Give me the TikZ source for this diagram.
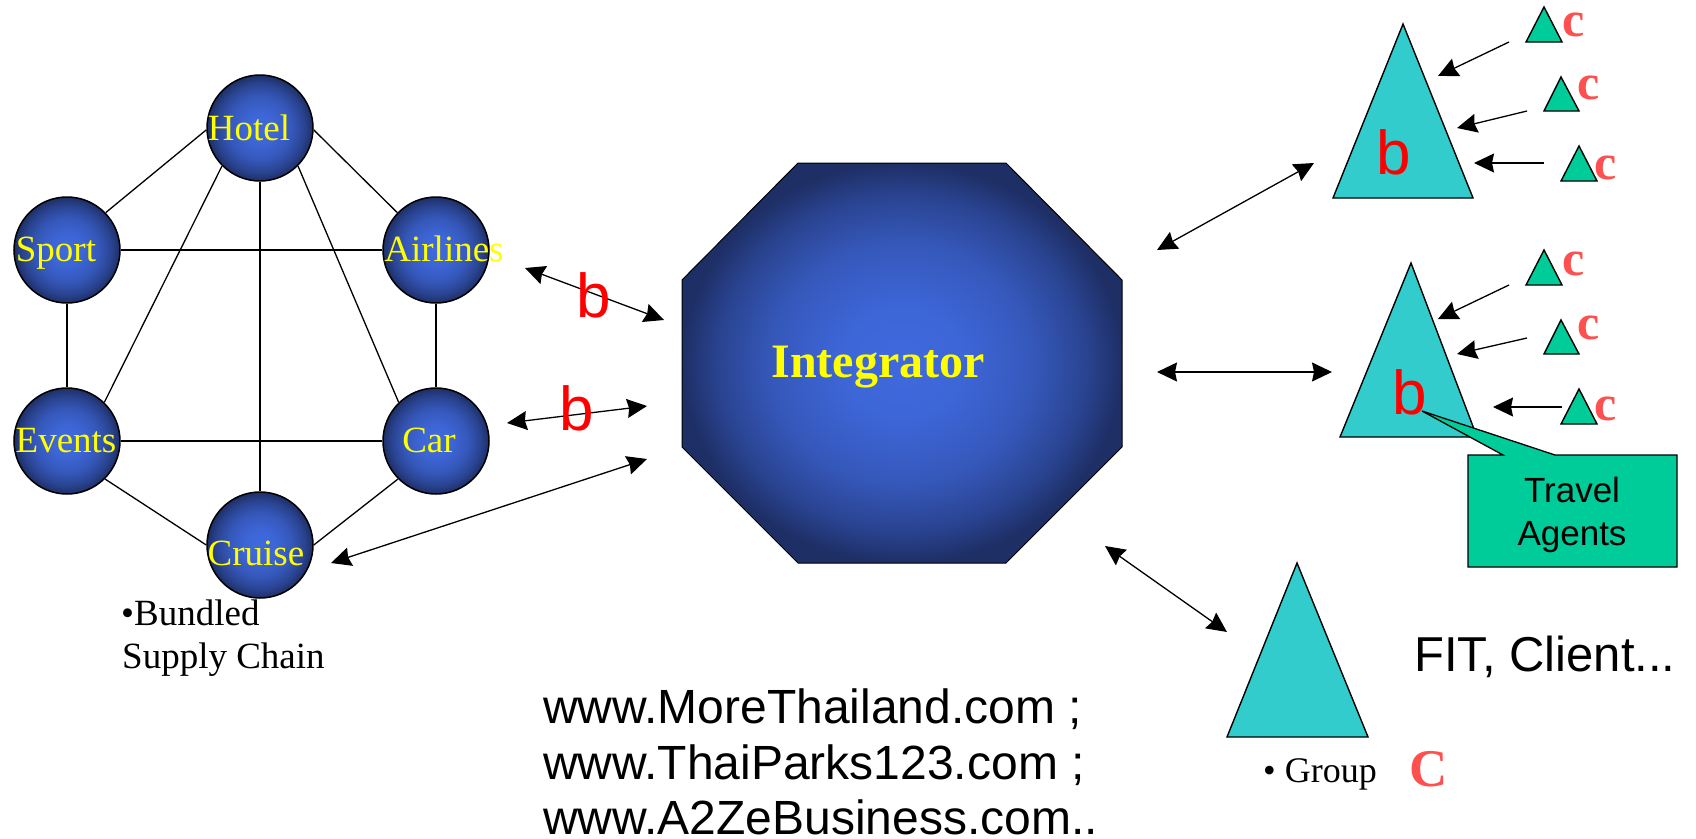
\documentclass[tikz,border=0pt]{standalone}
\usepackage{fontspec}
\setmainfont{Liberation Serif}
\newfontfamily\arialf{Liberation Sans}
\usetikzlibrary{arrows.meta}
\definecolor{ballin}{HTML}{3F69DE}
\definecolor{ballout}{HTML}{1E2F66}
\definecolor{tricyan}{HTML}{33CCCC}
\definecolor{trigreen}{HTML}{00CC99}
\definecolor{cred}{HTML}{FF5050}
\definecolor{bred}{HTML}{FF0000}
\definecolor{ylw}{HTML}{FFFF00}
\pgfdeclareradialshading{glow}{\pgfpointorigin}{%
  color(0bp)=(ballin);
  color(7bp)=(ballin!94!ballout);
  color(15bp)=(ballin!70!ballout);
  color(21bp)=(ballin!35!ballout);
  color(25bp)=(ballout);
  color(50bp)=(ballout)}
\begin{document}
\begin{tikzpicture}[x=1pt,y=-1pt,
  ball/.style={circle,draw=black,line width=1.5pt,minimum size=106pt,inner sep=0pt,shade,shading=glow},
  balltext/.style={text=ylw,font=\fontsize{37}{40}\selectfont,anchor=base,inner sep=0pt},
  link/.style={line width=1.3pt},
  tipx/.tip={Stealth[length=20pt,width=19pt,inset=2pt]},
  dbl/.style={line width=1.3pt,tipx-tipx},
  sgl/.style={line width=1.3pt,-tipx},
  bigtri/.style={draw=black,line width=1.4pt,fill=tricyan},
  smalltri/.style={draw=black,line width=1.4pt,fill=trigreen},
  btext/.style={text=bred,font=\arialf\fontsize{62}{62}\selectfont,inner sep=0pt},
  ctext/.style={text=cred,font=\bfseries\fontsize{50}{50}\selectfont,anchor=base west,inner sep=0pt},
  plain/.style={inner sep=0pt,anchor=base west}
]
\useasboundingbox (0,0) rectangle (1696,838);
\fill[white] (0,0) rectangle (1696,838);

% supply chain network
\node[ball] (hotel) at (260,128) {};
\node[ball] (sport) at (67,250) {};
\node[ball] (airlines) at (436,250) {};
\node[ball] (events) at (67,441) {};
\node[ball] (car) at (436,441) {};
\node[ball] (cruise) at (260,545) {};

\draw[link] (hotel.182) -- (sport.44);
\draw[link] (hotel.358) -- (airlines.136);
\draw[link] (hotel.225) -- (events.46);
\draw[link] (hotel.315) -- (car.134);
\draw[link] (hotel.south) -- (cruise.north);
\draw[link] (sport.east) -- (airlines.west);
\draw[link] (sport.south) -- (events.north);
\draw[link] (airlines.south) -- (car.north);
\draw[link] (events.east) -- (car.west);
\draw[link] (events.315) -- (cruise.180);
\draw[link] (car.225) -- (cruise.0);

\node[balltext] (hotelT) at (249,140) {Hotel};
\node[balltext] (sportT) at (56,261) {Sport};
\node[balltext] (airlinesT) at (444,261) {Airlines};
\node[balltext] (eventsT) at (66,452) {Events};
\node[balltext] (carT) at (429,452) {Car};
\node[balltext] (cruiseT) at (256,565) {Cruise};

\node[plain,font=\fontsize{37}{37}\selectfont] (bund1) at (121,625) {•Bundled};
\node[plain,font=\fontsize{37}{37}\selectfont] (bund2) at (122,668) {Supply Chain};

% integrator
\shadedraw[draw=black,line width=1pt,shading=glow]
  (798,163) -- (1006,163) -- (1122,280) -- (1122,447) -- (1006,563) -- (798,563) -- (682,447) -- (682,280) -- cycle;
\node[inner sep=0pt,anchor=base,text=ylw,font=\bfseries\fontsize{48}{48}\selectfont] (integ) at (878,377) {Integrator};

% arrow end points
\coordinate (a1s) at (525,268); \coordinate (a1e) at (664,320);
\coordinate (a2s) at (507,423); \coordinate (a2e) at (647,406);
\coordinate (a3s) at (331,563); \coordinate (a3e) at (647,459);
\coordinate (a4s) at (1157,250); \coordinate (a4e) at (1314,163);
\coordinate (a5s) at (1157,372); \coordinate (a5e) at (1332,372);
\coordinate (a6s) at (1105,546); \coordinate (a6e) at (1227,632);

\draw[dbl] (a1s) -- (a1e);
\draw[dbl] (a2s) -- (a2e);
\draw[dbl] (a3s) -- (a3e);
\draw[dbl] (a4s) -- (a4e);
\draw[dbl] (a5s) -- (a5e);
\draw[dbl] (a6s) -- (a6e);

\node[btext] (b1) at (594,295) {b};
\node[btext] (b2) at (577,408) {b};

% big triangles
\draw[bigtri] (1403,24) -- (1473,198) -- (1333,198) -- cycle;
\draw[bigtri] (1411,263) -- (1477,437) -- (1340,437) -- cycle;
\draw[bigtri] (1297,563) -- (1368,737) -- (1227,737) -- cycle;

% small triangles
\draw[smalltri] (1544,7) -- (1562,42) -- (1526,42) -- cycle;
\draw[smalltri] (1561,77) -- (1579,111) -- (1544,111) -- cycle;
\draw[smalltri] (1579,146) -- (1597,181) -- (1561,181) -- cycle;
\draw[smalltri] (1544,250) -- (1562,285) -- (1526,285) -- cycle;
\draw[smalltri] (1561,320) -- (1579,354) -- (1544,354) -- cycle;
\draw[smalltri] (1579,389) -- (1597,424) -- (1561,424) -- cycle;

\node[ctext] (c1) at (1562,36) {c};
\node[ctext] (c2) at (1577,99) {c};
\node[ctext] (c3) at (1594,179) {c};
\node[ctext] (c4) at (1562,275) {c};
\node[ctext] (c5) at (1577,339) {c};
\node[ctext] (c6) at (1594,420) {c};

% small arrows
\coordinate (s1s) at (1509,42); \coordinate (s1e) at (1438,76);
\coordinate (s2s) at (1527,111); \coordinate (s2e) at (1457,128);
\coordinate (s3s) at (1544,163); \coordinate (s3e) at (1474,163);
\coordinate (s4s) at (1509,285); \coordinate (s4e) at (1438,319);
\coordinate (s5s) at (1527,338); \coordinate (s5e) at (1457,354);
\coordinate (s6s) at (1562,407); \coordinate (s6e) at (1493,407);
\draw[sgl] (s1s) -- (s1e);
\draw[sgl] (s2s) -- (s2e);
\draw[sgl] (s3s) -- (s3e);
\draw[sgl] (s4s) -- (s4e);
\draw[sgl] (s5s) -- (s5e);
\draw[sgl] (s6s) -- (s6e);

\node[btext] (b3) at (1394,152) {b};

% callout
\draw[fill=trigreen,line width=1.3pt] (1468,455) -- (1503,455) -- (1422,411) -- (1555,455) -- (1677,455) -- (1677,567) -- (1468,567) -- cycle;
\node[btext] (b4) at (1410,392) {b};
\node[inner sep=0pt,anchor=base,font=\arialf\fontsize{35}{35}\selectfont] (ta1) at (1572,502) {Travel};
\node[inner sep=0pt,anchor=base,font=\arialf\fontsize{35}{35}\selectfont] (ta2) at (1572,545) {Agents};

% client labels
\node[plain,font=\arialf\fontsize{49}{49}\selectfont] (fit) at (1414,671) {FIT, Client...};
\node[plain,font=\fontsize{36}{36}\selectfont] (group) at (1263,782) {• Group};
\node[plain,text=cred,font=\bfseries\fontsize{53}{53}\selectfont] (bigc) at (1409,786) {C};

% web sites
\node[plain,font=\arialf\fontsize{48}{48}\selectfont] (w1) at (543,723) {www.MoreThailand.com ;};
\node[plain,font=\arialf\fontsize{48}{48}\selectfont] (w2) at (543,779) {www.ThaiParks123.com ;};
\node[plain,font=\arialf\fontsize{48}{48}\selectfont] (w3) at (543,834) {www.A2ZeBusiness.com..};
\end{tikzpicture}
\end{document}
